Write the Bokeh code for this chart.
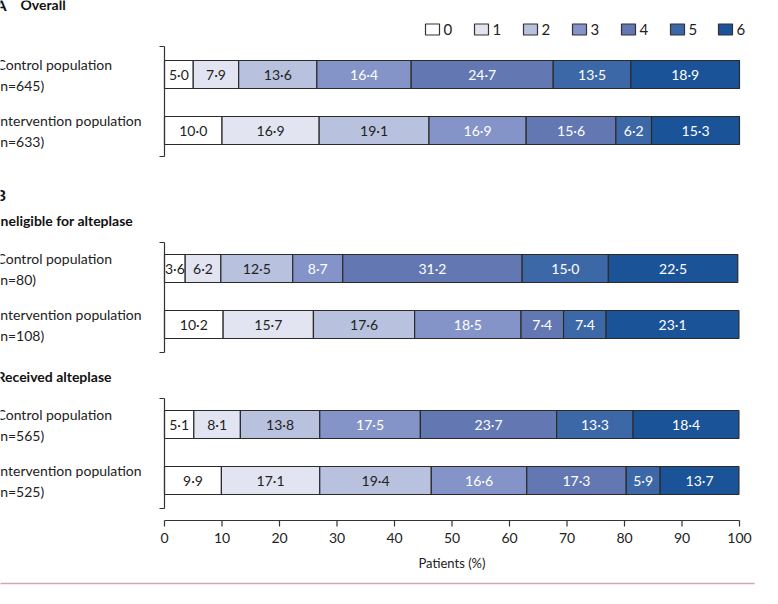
from bokeh.plotting import figure
from bokeh.models import ColumnDataSource, Range1d
from bokeh.core.properties import value
from bokeh.embed import file_html
from bokeh.resources import INLINE

scores = ["0", "1", "2", "3", "4", "5", "6"]
colors = ["#ffffff", "#e2e5f1", "#b8c1dd", "#8594c8", "#6378b2", "#3d68a8", "#1b5399"]
text_colors = ["#222222", "#222222", "#222222", "white", "white", "white", "white"]

rows = ["Control population", "Intervention population",
        "Control population", "Intervention population",
        "Control population", "Intervention population"]
ns = ["(n=645)", "(n=633)", "(n=80)", "(n=108)", "(n=565)", "(n=525)"]
values = [
    [5.0, 7.9, 13.6, 16.4, 24.7, 13.5, 18.9],
    [10.0, 16.9, 19.1, 16.9, 15.6, 6.2, 15.3],
    [3.6, 6.2, 12.5, 8.7, 31.2, 15.0, 22.5],
    [10.2, 15.7, 17.6, 18.5, 7.4, 7.4, 23.1],
    [5.1, 8.1, 13.8, 17.5, 23.7, 13.3, 18.4],
    [9.9, 17.1, 19.4, 16.6, 17.3, 5.9, 13.7],
]
ticks = [0, 10, 20, 30, 40, 50, 60, 70, 80, 90, 100]

# layout in page pixels (y downwards), x in percent
row_y = [90, 146, 284, 340, 440, 496]
groups = [(62, 172), (258, 368), (414, 524)]
PX = 5.75
FONT = value("Lato")


def px(x):
    return (x - 180) / PX


p = figure(width=762, height=588, output_backend="svg", toolbar_location=None,
           x_range=Range1d(px(8), px(770)), y_range=Range1d(596, 8),
           min_border=0, outline_line_color=None)
p.x_range = Range1d(px(8), px(770))
p.axis.visible = False
p.grid.visible = False

# bars
left, right, ys, fill, labels, mids, tcol = [], [], [], [], [], [], []
for r, vals in enumerate(values):
    cum = 0
    for i, v in enumerate(vals):
        left.append(cum)
        right.append(cum + v)
        ys.append(row_y[r])
        fill.append(colors[i])
        labels.append(f"{v:.1f}".replace(".", "·"))
        mids.append(cum + v / 2)
        tcol.append(text_colors[i])
        cum += v
src = ColumnDataSource(dict(left=left, right=right, y=ys, fill=fill, label=labels, mid=mids, tcol=tcol))
p.hbar(y="y", left="left", right="right", height=28, fill_color="fill",
       line_color="#2b2b2b", line_width=1.2, source=src)
p.text(x="mid", y="y", text="label", text_color="tcol", text_font=FONT, text_font_size="14px",
       text_align="center", text_baseline="middle", source=src)

# group brackets
for top, bot in groups:
    p.segment(x0=[0, px(175), px(175)], y0=[top, top, bot], x1=[0, 0, 0], y1=[bot, top, bot],
              line_color="#333333", line_width=1.2)

# row labels
p.text(x=[px(12)] * 6, y=[y - 10 for y in row_y], text=rows, text_font=FONT, text_font_size="14px",
       text_baseline="middle", text_color="#222222")
p.text(x=[px(12)] * 6, y=[y + 11 for y in row_y], text=ns, text_font=FONT, text_font_size="14px",
       text_baseline="middle", text_color="#222222")

# section titles
p.text(x=[px(11), px(11)], y=[20, 210], text=["A", "B"], text_font=FONT, text_font_size="16px",
       text_font_style="bold", text_baseline="middle", text_color="#111111")
p.text(x=[px(36), px(12), px(12)], y=[20, 236, 392],
       text=["Overall", "Ineligible for alteplase", "Received alteplase"], text_font=FONT,
       text_font_size="14px", text_font_style="bold", text_baseline="middle", text_color="#111111")

# legend
leg_x = [440, 489, 538, 587, 636, 685, 733]
p.rect(x=[px(x + 8) for x in leg_x], y=[45] * 7, width=14 / PX, height=11, fill_color=colors,
       line_color="#333333", line_width=1.2)
p.text(x=[px(x + 19) for x in leg_x], y=[45] * 7, text=scores, text_font=FONT, text_font_size="15px",
       text_baseline="middle", text_color="#222222")

# x axis
p.segment(x0=[0], y0=[536], x1=[100], y1=[536], line_color="#333333", line_width=1.2)
p.segment(x0=ticks, y0=[536] * len(ticks), x1=ticks, y1=[542] * len(ticks), line_color="#333333", line_width=1.2)
p.text(x=ticks, y=[553] * len(ticks), text=[str(t) for t in ticks], text_font=FONT, text_font_size="14px",
       text_align="center", text_baseline="middle", text_color="#222222")
p.text(x=[50], y=[578], text=["Patients (%)"], text_font=FONT, text_font_size="13px",
       text_align="center", text_baseline="middle", text_color="#222222")
p.segment(x0=[px(8)], y0=[599], x1=[px(770)], y1=[599], line_color="#d9a3b3", line_width=1.5)

# the page has an 8px margin: shift the ranges so page pixels line up with the reference
p.x_range = Range1d(px(16), px(778))
p.y_range = Range1d(604, 16)

open("out.html", "w").write(file_html(p, INLINE))
